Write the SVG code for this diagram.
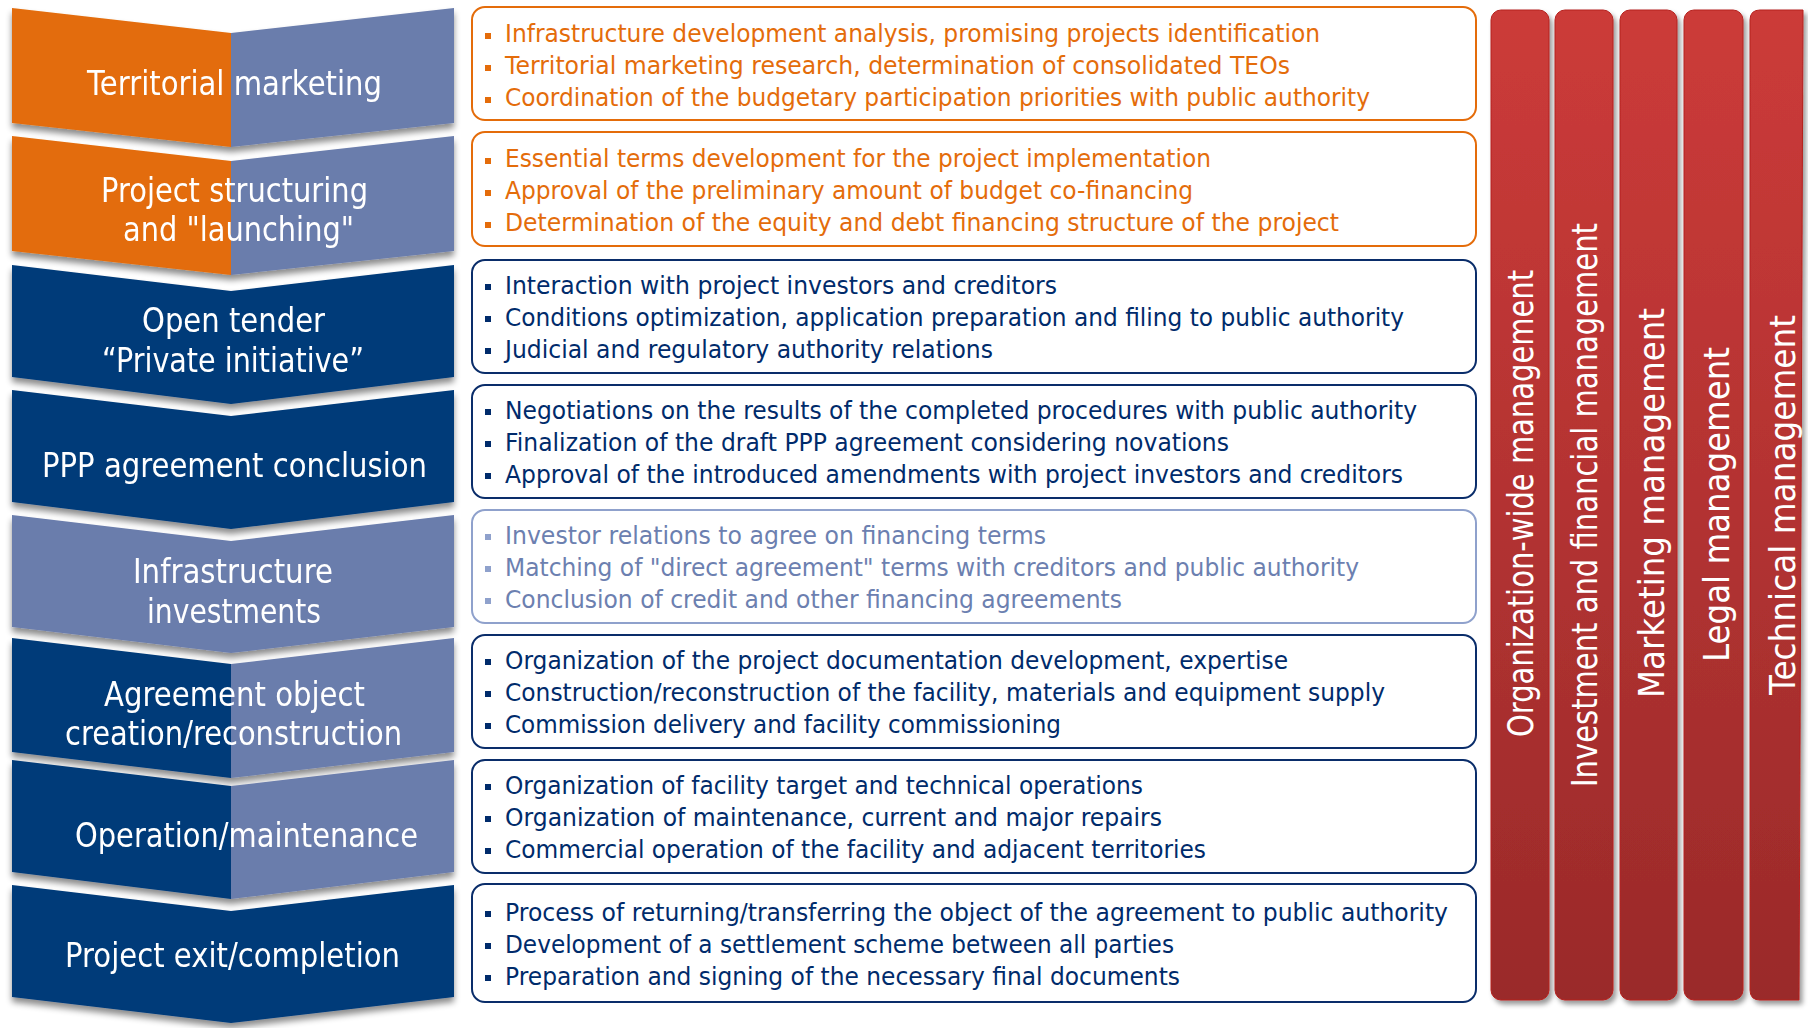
<svg xmlns="http://www.w3.org/2000/svg" width="1808" height="1028" viewBox="0 0 1808 1028">
<defs>
<style>
.ct{font-family:"DejaVu Sans",Verdana,sans-serif;font-size:34px;fill:#fff;text-anchor:middle}
.bt{font-family:"DejaVu Sans",Verdana,sans-serif;font-size:24.5px}
.vt{font-family:"DejaVu Sans",Verdana,sans-serif;font-size:36px;fill:#fff;text-anchor:middle}
.or{fill:#E46C0A}.nv{fill:#002B6B}.sl{fill:#6C80B0}
.bxo{fill:#fff;stroke:#E46C0A;stroke-width:2}
.bxn{fill:#fff;stroke:#0A2D6A;stroke-width:2}
.bxs{fill:#fff;stroke:#8FA1CC;stroke-width:2}
.c-or{fill:#E36C0A}.c-sl{fill:#6B7DAC}.c-nv{fill:#003B79}
.col{fill:url(#rg);stroke:#B5201E;stroke-width:1}
</style>
<linearGradient id="rg" x1="0" y1="0" x2="0" y2="1">
<stop offset="0" stop-color="#CC3B39"/>
<stop offset="1" stop-color="#9A2A2A"/>
</linearGradient>
<filter id="sh" x="-5%" y="-10%" width="110%" height="130%">
<feDropShadow dx="0" dy="5" stdDeviation="3" flood-color="#000" flood-opacity="0.45"/>
</filter>
<filter id="shc" x="-20%" y="-5%" width="150%" height="110%">
<feDropShadow dx="3" dy="4" stdDeviation="2.5" flood-color="#000" flood-opacity="0.4"/>
</filter>
</defs>
<rect width="1808" height="1028" fill="#fff"/>

<!-- Chevrons -->
<g id="stage1" filter="url(#sh)">
<path class="c-or" d="M12,8 L231,33 L231,147 L12,123 Z"/>
<path class="c-sl" d="M231,33 L454,8 L454,123 L231,147 Z"/>
<text class="ct" x="234.5" y="95" textLength="295" lengthAdjust="spacingAndGlyphs">Territorial marketing</text>
</g>
<g id="stage2" filter="url(#sh)">
<path class="c-or" d="M12,136 L231,161 L231,275 L12,251 Z"/>
<path class="c-sl" d="M231,161 L454,136 L454,251 L231,275 Z"/>
<text class="ct" x="234.5" y="202" textLength="267" lengthAdjust="spacingAndGlyphs">Project structuring</text>
<text class="ct" x="238.5" y="241" textLength="231" lengthAdjust="spacingAndGlyphs">and "launching"</text>
</g>
<g id="stage3" filter="url(#sh)">
<path class="c-nv" d="M12,265 L231,291 L454,265 L454,377 L231,404 L12,377 Z"/>
<text class="ct" x="233.5" y="332" textLength="183" lengthAdjust="spacingAndGlyphs">Open tender</text>
<text class="ct" x="233" y="372" textLength="262" lengthAdjust="spacingAndGlyphs">“Private initiative”</text>
</g>
<g id="stage4" filter="url(#sh)">
<path class="c-nv" d="M12,390 L231,416 L454,390 L454,502 L231,529 L12,502 Z"/>
<text class="ct" x="234.5" y="477" textLength="385" lengthAdjust="spacingAndGlyphs">PPP agreement conclusion</text>
</g>
<g id="stage5" filter="url(#sh)">
<path class="c-sl" d="M12,515 L231,541 L454,515 L454,627 L231,653 L12,627 Z"/>
<text class="ct" x="233" y="583" textLength="200" lengthAdjust="spacingAndGlyphs">Infrastructure</text>
<text class="ct" x="234" y="623" textLength="174" lengthAdjust="spacingAndGlyphs">investments</text>
</g>
<g id="stage6" filter="url(#sh)">
<path class="c-nv" d="M12,638 L231,664 L231,778 L12,752 Z"/>
<path class="c-sl" d="M231,664 L454,638 L454,752 L231,778 Z"/>
<text class="ct" x="234.5" y="706" textLength="261" lengthAdjust="spacingAndGlyphs">Agreement object</text>
<text class="ct" x="233.5" y="745" textLength="337" lengthAdjust="spacingAndGlyphs">creation/reconstruction</text>
</g>
<g id="stage7" filter="url(#sh)">
<path class="c-nv" d="M12,760 L231,786 L231,899 L12,872 Z"/>
<path class="c-sl" d="M231,786 L454,760 L454,872 L231,899 Z"/>
<text class="ct" x="246.5" y="847" textLength="343" lengthAdjust="spacingAndGlyphs">Operation/maintenance</text>
</g>
<g id="stage8" filter="url(#sh)">
<path class="c-nv" d="M12,885 L231,911 L454,885 L454,997 L231,1023 L12,997 Z"/>
<text class="ct" x="232.5" y="967" textLength="335" lengthAdjust="spacingAndGlyphs">Project exit/completion</text>
</g>

<!-- Text boxes -->
<g id="box1">
<rect class="bxo" x="472" y="7" width="1004" height="113" rx="13"/>
<g class="or"><rect x="485" y="33" width="6" height="6"/><rect x="485" y="65" width="6" height="6"/><rect x="485" y="97" width="6" height="6"/></g>
<text class="bt or" x="505" y="42" textLength="815" lengthAdjust="spacingAndGlyphs">Infrastructure development analysis, promising projects identification</text>
<text class="bt or" x="505" y="74" textLength="785" lengthAdjust="spacingAndGlyphs">Territorial marketing research, determination of consolidated TEOs</text>
<text class="bt or" x="505" y="106" textLength="865" lengthAdjust="spacingAndGlyphs">Coordination of the budgetary participation priorities with public authority</text>
</g>
<g id="box2">
<rect class="bxo" x="472" y="132" width="1004" height="114" rx="13"/>
<g class="or"><rect x="485" y="158" width="6" height="6"/><rect x="485" y="190" width="6" height="6"/><rect x="485" y="222" width="6" height="6"/></g>
<text class="bt or" x="505" y="167" textLength="706" lengthAdjust="spacingAndGlyphs">Essential terms development for the project implementation</text>
<text class="bt or" x="505" y="199" textLength="688" lengthAdjust="spacingAndGlyphs">Approval of the preliminary amount of budget co-financing</text>
<text class="bt or" x="505" y="231" textLength="834" lengthAdjust="spacingAndGlyphs">Determination of the equity and debt financing structure of the project</text>
</g>
<g id="box3">
<rect class="bxn" x="472" y="260" width="1004" height="113" rx="13"/>
<g class="nv"><rect x="485" y="284" width="6" height="6"/><rect x="485" y="316" width="6" height="6"/><rect x="485" y="348" width="6" height="6"/></g>
<text class="bt nv" x="505" y="294" textLength="552" lengthAdjust="spacingAndGlyphs">Interaction with project investors and creditors</text>
<text class="bt nv" x="505" y="326" textLength="899" lengthAdjust="spacingAndGlyphs">Conditions optimization, application preparation and filing to public authority</text>
<text class="bt nv" x="505" y="358" textLength="488" lengthAdjust="spacingAndGlyphs">Judicial and regulatory authority relations</text>
</g>
<g id="box4">
<rect class="bxn" x="472" y="385" width="1004" height="113" rx="13"/>
<g class="nv"><rect x="485" y="409" width="6" height="6"/><rect x="485" y="441" width="6" height="6"/><rect x="485" y="473" width="6" height="6"/></g>
<text class="bt nv" x="505" y="419" textLength="912" lengthAdjust="spacingAndGlyphs">Negotiations on the results of the completed procedures with public authority</text>
<text class="bt nv" x="505" y="451" textLength="724" lengthAdjust="spacingAndGlyphs">Finalization of the draft PPP agreement considering novations</text>
<text class="bt nv" x="505" y="483" textLength="898" lengthAdjust="spacingAndGlyphs">Approval of the introduced amendments with project investors and creditors</text>
</g>
<g id="box5">
<rect class="bxs" x="472" y="510" width="1004" height="113" rx="13"/>
<g fill="#8FA1CC"><rect x="485" y="534" width="6" height="6"/><rect x="485" y="566" width="6" height="6"/><rect x="485" y="598" width="6" height="6"/></g>
<text class="bt sl" x="505" y="544" textLength="541" lengthAdjust="spacingAndGlyphs">Investor relations to agree on financing terms</text>
<text class="bt sl" x="505" y="576" textLength="854" lengthAdjust="spacingAndGlyphs">Matching of "direct agreement" terms with creditors and public authority</text>
<text class="bt sl" x="505" y="608" textLength="617" lengthAdjust="spacingAndGlyphs">Conclusion of credit and other financing agreements</text>
</g>
<g id="box6">
<rect class="bxn" x="472" y="635" width="1004" height="113" rx="13"/>
<g class="nv"><rect x="485" y="659" width="6" height="6"/><rect x="485" y="691" width="6" height="6"/><rect x="485" y="723" width="6" height="6"/></g>
<text class="bt nv" x="505" y="669" textLength="783" lengthAdjust="spacingAndGlyphs">Organization of the project documentation development, expertise</text>
<text class="bt nv" x="505" y="701" textLength="880" lengthAdjust="spacingAndGlyphs">Construction/reconstruction of the facility, materials and equipment supply</text>
<text class="bt nv" x="505" y="733" textLength="556" lengthAdjust="spacingAndGlyphs">Commission delivery and facility commissioning</text>
</g>
<g id="box7">
<rect class="bxn" x="472" y="760" width="1004" height="113" rx="13"/>
<g class="nv"><rect x="485" y="784" width="6" height="6"/><rect x="485" y="816" width="6" height="6"/><rect x="485" y="848" width="6" height="6"/></g>
<text class="bt nv" x="505" y="794" textLength="638" lengthAdjust="spacingAndGlyphs">Organization of facility target and technical operations</text>
<text class="bt nv" x="505" y="826" textLength="657" lengthAdjust="spacingAndGlyphs">Organization of maintenance, current and major repairs</text>
<text class="bt nv" x="505" y="858" textLength="701" lengthAdjust="spacingAndGlyphs">Commercial operation of the facility and adjacent territories</text>
</g>
<g id="box8">
<rect class="bxn" x="472" y="884" width="1004" height="118" rx="13"/>
<g class="nv"><rect x="485" y="911" width="6" height="6"/><rect x="485" y="943" width="6" height="6"/><rect x="485" y="975" width="6" height="6"/></g>
<text class="bt nv" x="505" y="921" textLength="943" lengthAdjust="spacingAndGlyphs">Process of returning/transferring the object of the agreement to public authority</text>
<text class="bt nv" x="505" y="953" textLength="669" lengthAdjust="spacingAndGlyphs">Development of a settlement scheme between all parties</text>
<text class="bt nv" x="505" y="985" textLength="675" lengthAdjust="spacingAndGlyphs">Preparation and signing of the necessary final documents</text>
</g>

<!-- Management columns -->
<g id="col1">
<rect class="col" x="1491" y="10" width="58" height="990" rx="10" filter="url(#shc)"/>
<text class="vt" transform="translate(1533,503.5) rotate(-90)" textLength="467" lengthAdjust="spacingAndGlyphs">Organization-wide management</text>
</g>
<g id="col2">
<rect class="col" x="1555" y="10" width="58" height="990" rx="10" filter="url(#shc)"/>
<text class="vt" transform="translate(1597,505) rotate(-90)" textLength="564" lengthAdjust="spacingAndGlyphs">Investment and financial management</text>
</g>
<g id="col3">
<rect class="col" x="1620" y="10" width="57" height="990" rx="10" filter="url(#shc)"/>
<text class="vt" transform="translate(1664,503) rotate(-90)" textLength="390" lengthAdjust="spacingAndGlyphs">Marketing management</text>
</g>
<g id="col4">
<rect class="col" x="1684" y="10" width="59" height="990" rx="10" filter="url(#shc)"/>
<text class="vt" transform="translate(1729,504.5) rotate(-90)" textLength="315" lengthAdjust="spacingAndGlyphs">Legal management</text>
</g>
<g id="col5">
<path class="col" d="M1803,10 L1760,10 Q1750,10 1750,20 L1750,990 Q1750,1000 1760,1000 L1799,1000 Z" filter="url(#shc)"/>
<text class="vt" transform="translate(1795,505) rotate(-90)" textLength="380" lengthAdjust="spacingAndGlyphs">Technical management</text>
</g>
</svg>
